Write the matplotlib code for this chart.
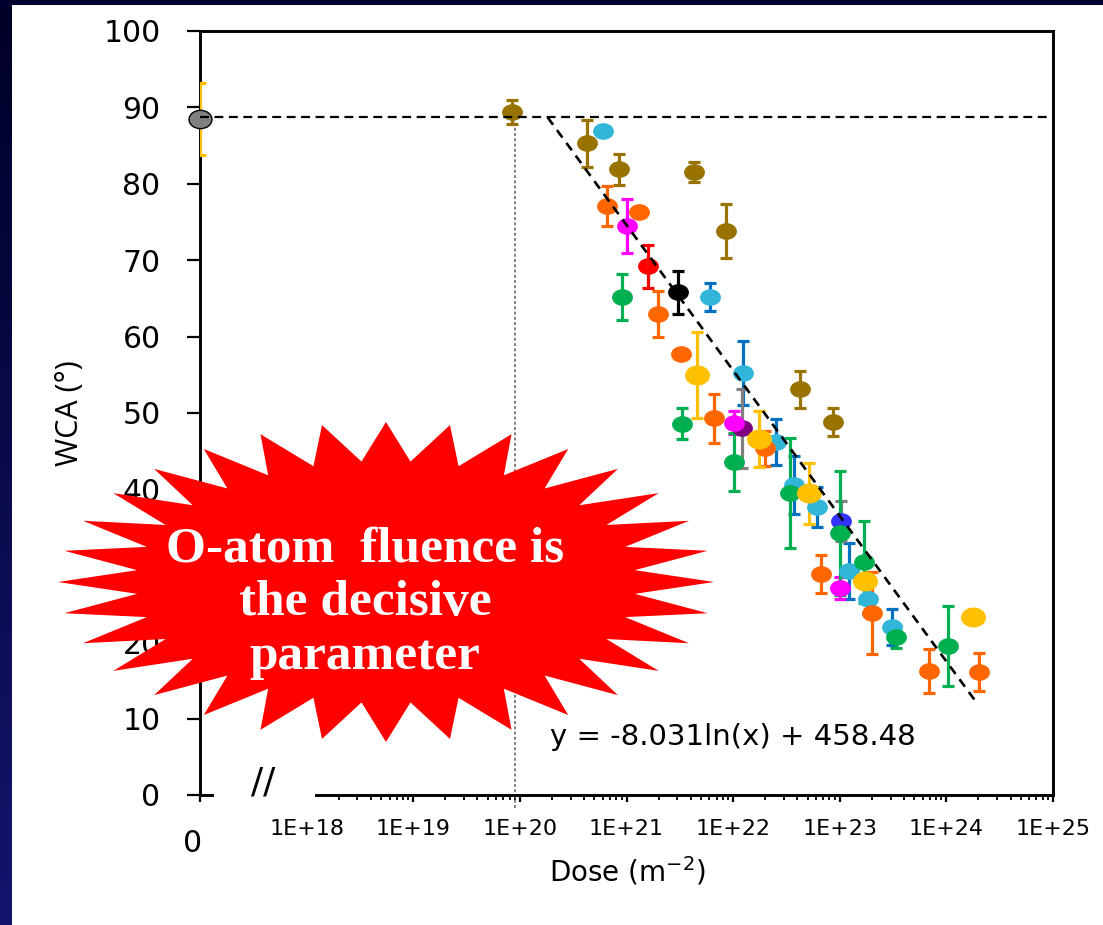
import numpy as np
import matplotlib
matplotlib.use('Agg')
import matplotlib.pyplot as plt
from matplotlib.path import Path
from matplotlib.patches import Polygon, Rectangle
from matplotlib.colors import LinearSegmentedColormap
from matplotlib.ticker import FixedLocator, FixedFormatter, LogLocator, NullFormatter

W, H = 1103, 925

# values: dose (m^-2), WCA (deg), error bar (deg)
brown_x = [8.5e19, 4.26e20, 8.5e20, 4.25e21, 8.5e21, 4.24e22, 8.7e22]
brown_y = [89.4, 85.3, 81.9, 81.5, 73.8, 53.1, 48.8]
brown_err = [1.6, 3.1, 2.0, 1.3, 3.5, 2.4, 1.8]

lblue_x = [6.0e20, 6.1e21, 1.23e22, 2.52e22, 3.72e22, 6.12e22, 1.23e23, 1.85e23, 3.12e23]
lblue_y = [86.9, 65.2, 55.2, 46.2, 40.6, 37.7, 29.3, 25.7, 22.0]
lblue_err = [0, 1.8, 4.2, 3.0, 3.8, 2.6, 3.7, 2.0, 2.4]

orange_x = [6.56e20, 1.31e21, 1.99e21, 3.27e21, 6.55e21, 1.98e22, 6.68e22, 2.02e23, 6.8e23, 2.01e24]
orange_y = [77.1, 76.3, 63.0, 57.7, 49.3, 45.4, 28.9, 23.8, 16.2, 16.1]
orange_err = [2.6, 0, 3.0, 0, 3.2, 2.3, 2.5, 5.4, 2.9, 2.5]

magenta_x = [1.01e21, 1.01e22, 1.01e23]
magenta_y = [74.5, 48.7, 27.1]
magenta_err = [3.5, 1.5, 1.4]

red_x, red_y, red_err = [1.6e21], [69.2], [2.8]
black_x, black_y, black_err = [3.06e21], [65.8], [2.8]

green_x = [9.08e20, 3.34e21, 1.01e22, 3.41e22, 1.01e23, 1.70e23, 3.40e23, 1.03e24]
green_y = [65.2, 48.6, 43.6, 39.5, 34.3, 30.5, 20.7, 19.5]
green_err = [3.0, 2.0, 3.8, 7.2, 8.1, 5.4, 1.4, 5.2]

yellow_x = [4.62e21, 1.74e22, 5.15e22, 1.73e23, 1.77e24]
yellow_y = [55.0, 46.6, 39.5, 28.0, 23.3]
yellow_err = [5.6, 3.7, 4.0, 0, 0]

purple_x, purple_y, purple_err = [1.2e22], [48.0], [5.2]
blue_x, blue_y, blue_err = [1.03e23], [35.9], [2.6]

# untreated sample, plotted at the "0" end of the broken axis
zero_x, zero_y, zero_err = [1e17], [88.5], [4.7]

# guide lines
plateau_y = 88.7
onset_x = 9e19
trend_x = [1.82e20, 1.85e24]
trend_y = [88.7, 12.4]

xtick_vals = [1e17, 1e18, 1e19, 1e20, 1e21, 1e22, 1e23, 1e24, 1e25]
xtick_labels = ['', '1E+18', '1E+19', '1E+20', '1E+21', '1E+22', '1E+23', '1E+24', '1E+25']

plt.rcParams['font.family'] = 'DejaVu Sans'

circle = Path.unit_circle()
ellipse = Path(circle.vertices * [1.0, 0.8], circle.codes)

fig = plt.figure(figsize=(W / 100, H / 100), dpi=100)
fig.patch.set_facecolor('white')
ax = fig.add_axes([200 / W, 1 - 795 / H, (1053 - 200) / W, (795 - 31) / H])
ax.set_xscale('log')
ax.set_xlim(1e17, 1e25)
ax.set_ylim(0, 100)

for s in ax.spines.values():
    s.set_linewidth(2.1)
    s.set_color('black')


def plot_series(x, y, err, color, ecolor, size, edge=None, clip=True):
    ax.errorbar(x, y, yerr=err, fmt='none', ecolor=ecolor, elinewidth=2.3,
                capsize=4.2, capthick=2.3, zorder=3)
    ax.plot(x, y, linestyle='none', marker=ellipse, markersize=size,
            markerfacecolor=color, markeredgecolor=edge or color,
            markeredgewidth=1 if edge else 0, zorder=4, clip_on=clip)


plot_series(lblue_x, lblue_y, lblue_err, '#31B6DA', '#0070C0', 15)
plot_series(purple_x, purple_y, purple_err, '#7F007F', '#7F7F7F', 15)
plot_series(blue_x, blue_y, blue_err, '#3333FF', '#7F7F7F', 15)
plot_series(brown_x, brown_y, brown_err, '#997300', '#997300', 15)
plot_series(orange_x, orange_y, orange_err, '#FF6600', '#FF6600', 15)
plot_series(red_x, red_y, red_err, '#FF0000', '#FF0000', 15)
plot_series(black_x, black_y, black_err, '#000000', '#000000', 15)
plot_series(magenta_x, magenta_y, magenta_err, '#FF00FF', '#FF00FF', 15)
plot_series(green_x, green_y, green_err, '#00B050', '#00B050', 15)
plot_series(yellow_x, yellow_y, yellow_err, '#FFC000', '#FFC000', 18)
plot_series(zero_x, zero_y, zero_err, '#808080', '#FFC000', 16.5, edge='black', clip=False)

# plateau, onset and log trend lines
ax.plot([xtick_vals[0], xtick_vals[-1]], [plateau_y, plateau_y], color='black',
        lw=1.6, dashes=(4, 2.5), zorder=5)
ax.plot([onset_x, onset_x], [-1.7, plateau_y], color='#7F7F7F', lw=1.4,
        dashes=(1.5, 1.2), zorder=2, clip_on=False)
ax.plot(trend_x, trend_y, color='black', lw=1.9, dashes=(3.5, 2.5), zorder=5)

ax.set_yticks(range(0, 101, 10))
ax.tick_params(axis='y', direction='out', length=9.4, width=1.6, labelsize=21.5, pad=19)
ax.xaxis.set_major_locator(FixedLocator(xtick_vals))
ax.xaxis.set_major_formatter(FixedFormatter(xtick_labels))
ax.xaxis.set_minor_locator(LogLocator(base=10, subs=np.arange(2, 10), numticks=20))
ax.xaxis.set_minor_formatter(NullFormatter())
ax.tick_params(axis='x', which='major', direction='out', length=5, width=1.6,
               labelsize=16, pad=12)
ax.tick_params(axis='x', which='minor', direction='out', length=3.5, width=1.3)

# axis break on the dose axis
fig.add_artist(Rectangle((214 / W, 1 - 808 / H), 101 / W, 20 / H, transform=fig.transFigure,
                         facecolor='white', edgecolor='none', zorder=2))
fig.text(263 / W, 1 - 783 / H, '//', fontsize=26, ha='center', va='center', zorder=3)
fig.text(193 / W, 1 - 843 / H, '0', fontsize=21.5, ha='center', va='center')

fig.text(70 / W, 1 - 413 / H, 'WCA (°)', rotation=90, fontsize=22, family='Open Sans',
         ha='center', va='center')
fig.text(627 / W, 1 - 871 / H, 'Dose (m$^{-2}$)', fontsize=20, ha='center', va='center')
fig.text(550 / W, 1 - 737 / H, 'y = -8.031ln(x) + 458.48', fontsize=21, ha='left', va='center')

# red starburst callout
n = 32
k = np.arange(2 * n)
ang = np.pi / 2 + k * np.pi / n
rx = np.where(k % 2 == 0, 328, 250)
ry = np.where(k % 2 == 0, 160, 121)
px = 386 + rx * np.cos(ang)
py = 582 - ry * np.sin(ang)
star = Polygon(np.column_stack([px / W, 1 - py / H]), closed=True, transform=fig.transFigure,
               facecolor='#FF0000', edgecolor='none', zorder=6)
fig.add_artist(star)
fig.text(365 / W, 1 - 603 / H, 'O-atom  fluence is\nthe decisive\nparameter',
         fontsize=37, family='Liberation Serif', fontweight='bold', color='white',
         ha='center', va='center', multialignment='center', linespacing=1.22, zorder=7)

# slide frame: dark gradient strip on the left, dark band on top
frame_cmap = LinearSegmentedColormap.from_list('frame', ['#000028', '#14146e'])
side = fig.add_axes([0, 0, 12 / W, 1], zorder=10)
side.imshow(np.linspace(0, 1, 256).reshape(-1, 1), aspect='auto', cmap=frame_cmap)
side.set_axis_off()
fig.add_artist(Rectangle((0, 1 - 5 / H), 1, 5 / H, transform=fig.transFigure,
                         facecolor='#000030', edgecolor='none', zorder=11))

fig.savefig('out.png', dpi=100)
